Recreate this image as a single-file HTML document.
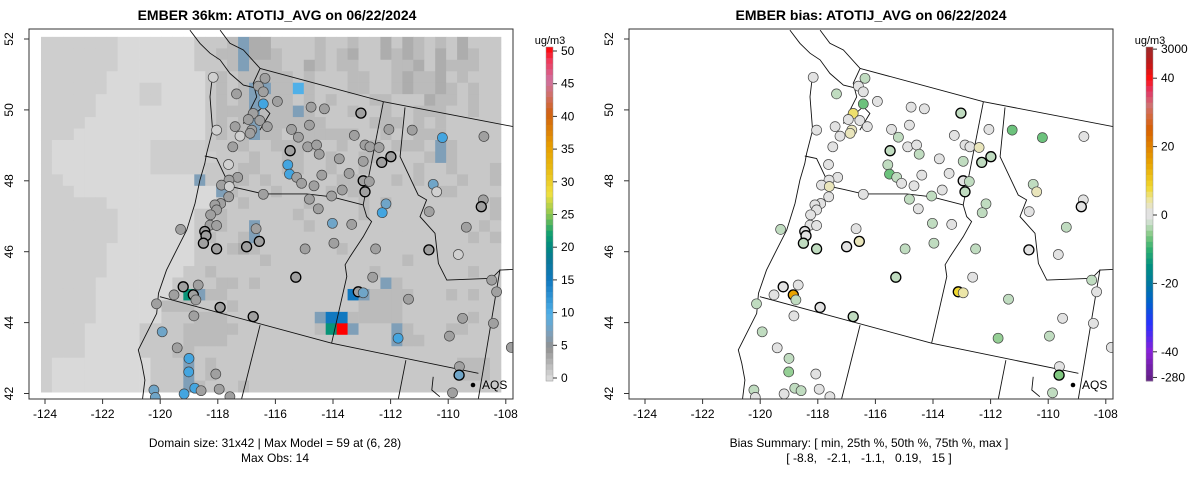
<!DOCTYPE html>
<html><head><meta charset="utf-8"><title>EMBER ATOTIJ_AVG</title>
<style>
html,body{margin:0;padding:0;background:#fff;}
svg{display:block;font-family:"Liberation Sans",Arial,sans-serif;}
</style></head>
<body>
<svg id="chart" width="1200" height="479" viewBox="0 0 1200 479" xmlns="http://www.w3.org/2000/svg">
<rect x="0" y="0" width="1200" height="479" fill="#fff"/>
<text x="277" y="20" text-anchor="middle" font-size="14" font-weight="bold">EMBER 36km: ATOTIJ_AVG on 06/22/2024</text>
<text x="871" y="20" text-anchor="middle" font-size="14" font-weight="bold">EMBER bias: ATOTIJ_AVG on 06/22/2024</text>
<g id="leftPanel"></g>
<g id="rightPanel"></g>
<text x="275" y="447" text-anchor="middle" font-size="12">Domain size: 31x42 | Max Model = 59 at (6, 28)</text>
<text x="275" y="462" text-anchor="middle" font-size="12">Max Obs: 14</text>
<text x="869" y="447" text-anchor="middle" font-size="12">Bias Summary: [ min, 25th %, 50th %, 75th %, max ]</text>
<text x="869" y="462" text-anchor="middle" font-size="12" xml:space="preserve">[ -8.8,   -2.1,   -1.1,   0.19,   15 ]</text>
</svg>
<script>
const xTicks = [-124,-122,-120,-118,-116,-114,-112,-110,-108];
const yTicks = [42,44,46,48,50,52];
const gridLon = [-124.14,-108.17];
const gridLat = [42.04,52.06];
const gridRows = [
"11111110000000"+"2223b442222322322424323242",
"11111110000000"+"2233b443222323422434324243",
"11111110000000"+"2223b333224323322233424333",
"111111000000000"+"232333332322233223433423222",
"111111000110000"+"2323bb33B32223322343343232",
"11111000011000"+"02323b3332323222332224332322",
"11111000000000"+"02333b333b32223223223332232",
"11110000000000"+"02323b3333332222333232322222",
"111000000000000"+"2323b3323333332232233322222",
"100000000011111"+"222322333322322323332b322222",
"100000000011111"+"122232233223223322223b322223",
"10000000001111"+"12223322332232232222322322232",
"1100000000000"+"0b2233232222223322232322232232",
"1110000000000000"+"b32223222232332222223322222",
"1111110000000000"+"2232222232222323222222222322",
"1111111000000"+"022322222232222232222222222232",
"11111110000000"+"22322b2222322222222222222232",
"11111110000000"+"23223b2222222222222222222323",
"1111110000000"+"022234322222223222222222222223",
"1111110000000"+"022222232222222222223222222222",
"111111000000"+"0223222222222222223222222223",
"11111000000"+"02222332322222222222b322222222",
"11111000000"+"02Gb"+"3322222222222"+"Db"+"333322232322",
"11111000000"+"3332223222222222223333222222222",
"1111100000"+"022233322222222"+"bDD"+"33333222222322",
"111100000"+"22223333322222223"+"GRb"+"222b322233222",
"111100000"+"22223333222222222222222"+"b3322222",
"11110000"+"02223322222222222222222222222222",
"1000000000"+"222b2322222222222222222222223332",
"1000000000"+"222b23222222222222222222222233322",
"1000000000"+"222b32223222222222222222222222222"
];
const cellCodeValue = {"0":0.45,"1":1.1,"2":1.5,"3":2.3,"4":3.2,"5":4.2,"b":7,"B":10,"D":15,"G":21,"R":50};
const stationLon = [-118.16,-116.36,-116.59,-116.42,-117.35,-115.93,-116.42,-114.76,-114.30,-113.03,-116.77,-116.94,-116.54,-114.82,-116.28,-117.40,-118.04,-115.44,-116.82,-116.88,-117.23,-115.20,-113.26,-112.06,-111.25,-110.20,-108.76,-112.89,-112.72,-112.40,-117.48,-114.88,-114.57,-115.49,-114.48,-111.99,-112.31,-113.78,-112.95,-117.63,-115.57,-115.51,-115.26,-115.09,-114.39,-113.44,-117.31,-117.61,-117.87,-117.60,-112.95,-112.74,-114.66,-113.68,-112.89,-110.52,-110.40,-116.42,-114.05,-117.62,-114.82,-114.51,-117.90,-118.10,-118.04,-118.25,-112.16,-112.29,-108.78,-108.85,-110.66,-118.27,-118.04,-114.02,-113.35,-119.29,-116.67,-118.45,-118.41,-118.50,-116.56,-117.00,-118.04,-113.97,-114.97,-112.52,-110.67,-109.65,-109.37,-115.29,-112.62,-108.49,-108.32,-119.20,-118.68,-119.52,-118.85,-118.76,-113.12,-112.95,-120.13,-117.92,-111.38,-118.83,-116.77,-109.50,-108.43,-119.93,-109.96,-111.74,-119.41,-107.81,-119.00,-109.61,-118.07,-119.01,-109.62,-120.22,-118.80,-118.58,-117.95,-119.17,-109.85,-117.58,-120.17];
const stationLat = [50.92,50.89,50.67,50.51,50.45,50.24,50.17,50.08,50.03,49.91,49.90,49.73,49.70,49.57,49.53,49.53,49.43,49.45,49.43,49.34,49.26,49.23,49.28,49.45,49.43,49.22,49.25,49.01,48.96,48.94,48.96,48.96,49.01,48.85,48.75,48.68,48.52,48.62,48.55,48.46,48.45,48.19,48.10,47.93,48.16,48.21,48.10,48.02,47.88,47.84,48.00,47.98,47.86,47.74,47.69,47.90,47.69,47.62,47.57,47.55,47.48,47.21,47.36,47.32,47.18,47.04,47.35,47.10,47.46,47.27,47.13,46.75,46.74,46.80,46.77,46.63,46.65,46.57,46.45,46.24,46.29,46.14,46.08,46.24,46.08,46.08,46.05,45.92,46.69,45.28,45.28,45.20,44.87,45.01,45.06,44.78,44.78,44.64,44.87,44.84,44.53,44.43,44.66,44.19,44.17,44.12,43.98,43.74,43.62,43.56,43.29,43.30,42.99,42.76,42.55,42.61,42.52,42.10,42.15,42.08,42.12,41.99,42.02,41.91,41.89];
const obsValue = [1,4,4,4,4,4,11,4,4,4,4,4,4,4,4,4,1,4,4,4,1,4,4,4,4,11,4,4,4,4,4,4,4,4,4,4,4,4,4,1,11,11,4,4,4,4,4,4,4,1,4,4,4,4,4,8,1,4,4,4,4,4,4,4,4,4,8,11,4,4,4,4,4,8,4,4,4,4,4,4,4,4,4,4,4,4,4,1,4,4,4,4,4,4,4,4,4,4,4,8,4,4,4,4,4,4,4,8,4,11,4,4,11,4,4,11,8,8,11,4,4,11,4,4,8];
const biasValue = [0,-3,0,0,-3,0,-7,0,0,-3,6,0,0,0,0,0,0,0,3,3,0,-3,0,0,-7,-7,0,0,0,3,0,0,0,-3,-3,-3,-3,0,-3,0,-3,-7,-3,0,0,0,0,0,0,3,0,-3,0,0,-3,-3,3,0,-3,0,-3,0,0,0,0,0,-3,-3,0,0,0,0,0,-3,0,-3,0,0,0,-3,3,0,-3,-3,-3,-3,0,0,-3,-3,0,-3,0,0,0,0,15,-3,8,4,-3,0,-3,0,-3,0,0,-3,-3,-5,0,0,-3,0,0,-5,-6,-3,-3,-3,0,0,-3,0,0];
const boldOutline = [0,0,0,0,0,0,0,0,0,1,0,0,0,0,0,0,0,0,0,0,0,0,0,0,0,0,0,0,0,0,0,0,0,1,0,1,1,0,0,0,0,0,0,0,0,0,0,0,0,0,1,0,0,0,1,0,0,0,0,0,0,0,0,0,0,0,0,0,0,1,0,0,0,0,0,0,0,1,1,1,1,1,1,0,0,0,1,0,0,1,0,0,0,1,0,0,1,0,1,0,0,1,0,0,1,0,0,0,0,0,0,0,0,0,0,0,1,0,0,0,0,0,0,0,0];
const leftBarTicks = [0,5,10,15,20,25,30,35,40,45,50];
const rightBarTickLabels = ["-280","-40","-20","0","20","40","3000"];
const rightBarTickValues = [-47.5,-40,-20,0,20,40,48.5];
const leftStops = [[0,"#e0e0e0"],[5,"#909090"],[7,"#7f9fb8"],[10,"#50b0e8"],[15,"#1078c0"],[18,"#0a7898"],[20,"#008880"],[22,"#10a070"],[25,"#90c850"],[28,"#f0e040"],[32,"#e8b810"],[35,"#e8a000"],[40,"#d06010"],[43,"#d07070"],[45,"#d070a0"],[48,"#f03858"],[50,"#ff0000"]];
const rightStops = [[-48.5,"#602080"],[-40,"#8a20d8"],[-32,"#2a30ff"],[-26,"#0060d0"],[-20,"#0078a0"],[-15,"#009080"],[-10,"#30b070"],[-6,"#80c880"],[-3,"#c0dcc0"],[-1,"#e2e2e2"],[1,"#e2e2e2"],[4,"#ece6a8"],[8,"#f0d830"],[15,"#e8a400"],[25,"#d86000"],[32,"#d07070"],[36,"#e03868"],[40,"#ff1010"],[44,"#c01818"],[48.5,"#a02828"]];
const coast = [[-118.97,52.25],[-118.62,51.88],[-118.27,51.60],[-117.92,51.41],[-117.58,51.03],[-117.11,50.70],[-116.65,50.61]];
const coast2 = [[-117.92,52.25],[-117.58,51.88],[-117.11,51.69],[-116.53,51.17],[-116.77,50.75],[-116.65,50.37],[-116.88,50.00],[-117.11,49.62],[-116.82,49.81],[-116.42,50.09],[-116.19,49.90],[-116.54,49.43]];
const coast3 = [[-118.21,50.80],[-118.27,50.37],[-118.18,49.43],[-118.39,48.77],[-118.45,48.49],[-118.62,48.02],[-118.79,47.36],[-119.08,46.61],[-119.43,46.05],[-119.78,45.48],[-120.06,44.83],[-120.12,44.26],[-120.53,43.60],[-120.76,43.23],[-120.64,42.85],[-120.53,42.38],[-120.61,41.86]];
const borders = [
 [[-116.53,51.17],[-112.25,50.23],[-107.74,49.53]],
 [[-112.25,50.23],[-112.95,47.32]],
 [[-111.50,50.07],[-111.67,48.68],[-111.04,47.60],[-110.75,47.46],[-110.98,46.99],[-110.46,46.52],[-110.34,45.67],[-110.05,45.20],[-108.49,45.25],[-108.20,45.48],[-107.74,45.50]],
 [[-108.20,45.50],[-108.95,41.86]],
 [[-118.45,48.70],[-118.04,48.63],[-117.58,47.84],[-117.11,47.76],[-116.42,47.63],[-114.91,47.63],[-114.05,47.55],[-112.95,47.32]],
 [[-112.95,47.32],[-112.83,46.99],[-112.66,46.85],[-112.95,46.42],[-113.41,45.86],[-113.58,45.63],[-113.52,45.30],[-114.05,43.42]],
 [[-120.01,44.73],[-114.05,43.42],[-108.95,42.57]],
 [[-116.53,43.93],[-117.17,41.86]],
 [[-111.47,42.94],[-111.73,41.86]],
 [[-110.52,42.47],[-110.57,42.10],[-110.29,41.91]]
];

const NS = "http://www.w3.org/2000/svg";
function el(tag, attrs, parent){const e=document.createElementNS(NS,tag);for(const k in attrs)e.setAttribute(k,attrs[k]);parent.appendChild(e);return e;}
function hex2rgb(h){return [parseInt(h.substr(1,2),16),parseInt(h.substr(3,2),16),parseInt(h.substr(5,2),16)];}
function colorFrom(stops,v){
  if(v<=stops[0][0])return stops[0][1];
  if(v>=stops[stops.length-1][0])return stops[stops.length-1][1];
  for(let i=1;i<stops.length;i++){if(v<=stops[i][0]){const a=stops[i-1],b=stops[i];const t=(v-a[0])/(b[0]-a[0]);const ca=hex2rgb(a[1]),cb=hex2rgb(b[1]);return "rgb("+ca.map((c,j)=>Math.round(c+(cb[j]-c)*t)).join(",")+")";}}
}
function makeX(ox){return lon=>ox+45+(lon+124)*28.8;}
const yS = lat=>39+(52-lat)*35.45;

function drawPanel(g, ox, isBias){
  const xS = makeX(ox);
  const clipId = "clip"+ox;
  const defs = el("defs",{},g);
  const cp = el("clipPath",{id:clipId},defs);
  el("rect",{x:ox+29,y:29,width:484,height:370},cp);
  const inner = el("g",{"clip-path":"url(#"+clipId+")"},g);
  
  
  if(!isBias){
    const nr=gridRows.length, nc=42;
    const x0=xS(gridLon[0]), x1=xS(gridLon[1]), y0=yS(gridLat[1]), y1=yS(gridLat[0]);
    const cw=(x1-x0)/nc, ch=(y1-y0)/nr;
    const gg=el("g",{},inner);
    
    
    for(let r=0;r<nr;r++){
      let row=gridRows[r]; while(row.length<nc)row+="2";
      for(let c=0;c<nc;c++){
        const v=cellCodeValue[row[c]];
        const rc=el("rect",{x:(x0+c*cw).toFixed(2),y:(y0+r*ch).toFixed(2),width:(cw+0.4).toFixed(2),height:(ch+0.4).toFixed(2),fill:colorFrom(leftStops,v)},gg);
        
        
      }
    }
  }
  const lines=[coast,coast2,coast3].concat(borders);
  lines.forEach(pts=>{
    const p=el("polyline",{points:pts.map(q=>xS(q[0]).toFixed(1)+","+yS(q[1]).toFixed(1)).join(" "),fill:"none",stroke:"#111","stroke-width":"0.9"},inner);
    
    
  });
  for(let i=0;i<stationLon.length;i++){
    const fill = isBias?colorFrom(rightStops,biasValue[i]):colorFrom(leftStops,obsValue[i]);
    const c=el("circle",{cx:xS(stationLon[i]).toFixed(1),cy:yS(stationLat[i]).toFixed(1),r:5,fill:fill,stroke:boldOutline[i]?"#000":"#444","stroke-width":boldOutline[i]?1.3:0.7},inner);
    
    
  }
  const ld=el("circle",{cx:ox+473,cy:385,r:2.3,fill:"#000"},g);
  
  
  const lt=el("text",{x:ox+482,y:389,"font-size":12},g); lt.textContent="AQS";
  
  
  const fr=el("rect",{x:ox+29,y:29,width:484,height:370,fill:"none",stroke:"#333","stroke-width":1},g);
  
  
  xTicks.forEach(t=>{
    const x=xS(t);
    const tk=el("line",{x1:x,y1:399,x2:x,y2:404,stroke:"#333"},g);
    
    
    const tl=el("text",{x:x,y:418,"text-anchor":"middle","font-size":12},g); tl.textContent=String(t);
    
    
  });
  yTicks.forEach(t=>{
    const y=yS(t);
    const tk=el("line",{x1:ox+24,y1:y,x2:ox+29,y2:y,stroke:"#333"},g);
    
    
    const tl=el("text",{x:ox+13,y:y,"text-anchor":"middle","font-size":12,transform:"rotate(-90 "+(ox+13)+" "+y+")"},g); tl.textContent=String(t);
    
    
  });
  const bx=ox+546, bt=47, bb=381, bw=7;
  const cb=el("g",{},g);
  
  
  const N=60;
  for(let k=0;k<N;k++){
    const yTop=bt+(bb-bt)*k/N;
    let v;
    if(!isBias){ v=50-50*(k+0.5)/N; }
    else { v=(215-(yTop+(bb-bt)/N/2))/3.42; }
    el("rect",{x:bx,y:yTop.toFixed(2),width:bw,height:((bb-bt)/N+0.4).toFixed(2),fill:colorFrom(isBias?rightStops:leftStops,v)},cb);
  }
  el("rect",{x:bx,y:bt,width:bw,height:bb-bt,fill:"none",stroke:"#999","stroke-width":0.5},cb);
  const ticksL = isBias?rightBarTickLabels:leftBarTicks.map(String);
  const ticksV = isBias?rightBarTickValues:leftBarTicks;
  ticksV.forEach((v,j)=>{
    const y = isBias? 215-v*3.42 : 378-v*6.54;
    const tk=el("line",{x1:bx+bw,y1:y,x2:bx+bw+4,y2:y,stroke:"#333"},cb);
    
    
    const tl=el("text",{x:bx+bw+8,y:y+4,"font-size":12},cb); tl.textContent=ticksL[j];
    
    
  });
  const un=el("text",{x:bx+4,y:44,"text-anchor":"middle","font-size":11},cb); un.textContent="ug/m3";
  
  
}
drawPanel(document.getElementById("leftPanel"),0,false);
drawPanel(document.getElementById("rightPanel"),600,true);
</script>
</body></html>
